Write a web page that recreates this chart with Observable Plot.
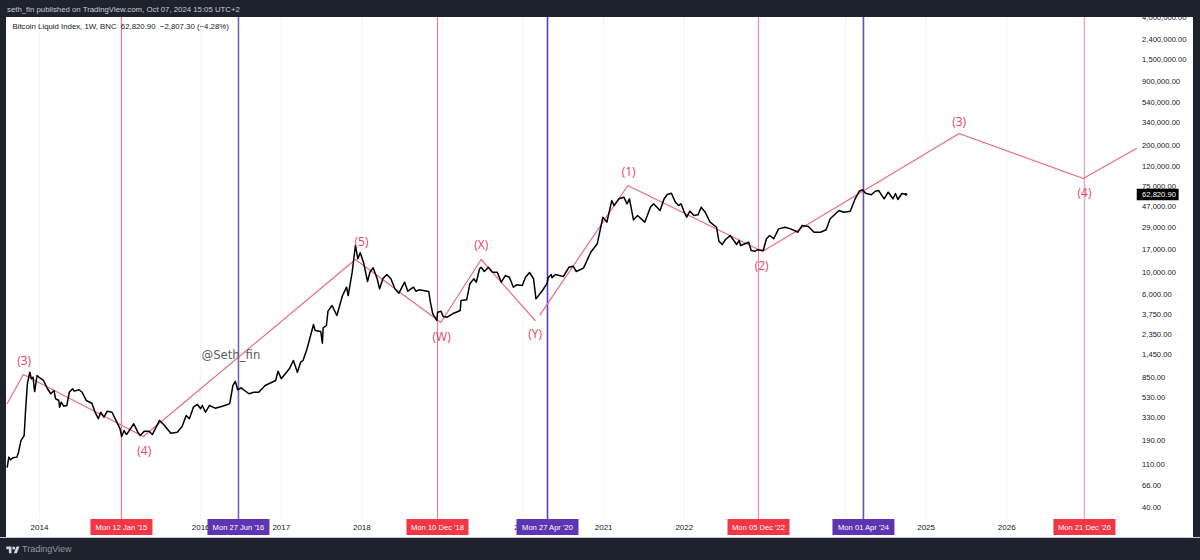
<!DOCTYPE html>
<html><head><meta charset="utf-8">
<script src="https://cdn.jsdelivr.net/npm/d3@7"></script>
<script src="https://cdn.jsdelivr.net/npm/@observablehq/plot@0.6"></script>
<style>
html,body{margin:0;padding:0;width:1200px;height:560px;overflow:hidden;background:#1e222d;font-family:"Liberation Sans",Arial,sans-serif}
#head{height:17px;line-height:20px;padding-left:7px;color:#c9ccd6;font-size:7.8px;white-space:nowrap;box-sizing:border-box}
#chart{margin-left:6px;width:1187px;height:520px}
#foot{height:23px;padding-left:6px;color:#9598a1;font-size:9px;display:flex;align-items:center;gap:2px;border-top:1px solid #c8cad0;box-sizing:border-box}
#foot svg{width:14px;height:9px;fill:#d1d4dc}
</style></head><body>
<div id="head">seth_fin published on TradingView.com, Oct 07, 2024 15:05 UTC+2</div>
<div id="chart"></div>
<div id="foot"><svg viewBox="0 0 36 24"><path d="M14 22H7V11H0V4h14v18zM28 22h-8l7.5-18h8L28 22z"/><circle cx="20" cy="8" r="4"/></svg><span>TradingView</span></div>
<script>
// Weekly index (decimal year, index value)
const priceYears = [2013.60,2013.62,2013.64,2013.67,2013.72,2013.74,2013.77,2013.81,2013.83,2013.85,2013.88,2013.90,2013.92,2013.94,2013.97,
2014.01,2014.05,2014.10,2014.14,2014.18,2014.20,2014.24,2014.25,2014.27,2014.30,2014.34,2014.37,2014.41,2014.43,2014.49,2014.53,2014.58,2014.65,2014.69,2014.73,2014.76,2014.80,2014.84,2014.90,2014.96,
2015.00,2015.02,2015.05,2015.08,2015.17,2015.22,2015.25,2015.30,2015.36,2015.40,2015.49,2015.54,2015.63,2015.71,2015.77,2015.82,2015.86,2015.91,2015.96,
2016.00,2016.02,2016.06,2016.11,2016.18,2016.27,2016.36,2016.40,2016.43,2016.46,2016.50,2016.60,2016.66,2016.72,2016.80,2016.93,2016.96,
2017.00,2017.05,2017.10,2017.15,2017.20,2017.24,2017.27,2017.32,2017.40,2017.42,2017.49,2017.51,2017.52,2017.56,2017.58,2017.63,2017.69,2017.76,2017.81,2017.83,2017.88,2017.92,2017.95,2017.98,
2018.02,2018.07,2018.10,2018.14,2018.19,2018.22,2018.26,2018.31,2018.36,2018.41,2018.46,2018.53,2018.57,2018.64,2018.67,2018.71,2018.83,2018.85,2018.88,2018.93,2018.94,2018.98,
2019.01,2019.06,2019.14,2019.22,2019.23,2019.30,2019.34,2019.39,2019.42,2019.46,2019.48,2019.52,2019.57,2019.62,2019.68,2019.73,2019.78,2019.83,2019.88,2019.92,2019.99,
2020.03,2020.08,2020.13,2020.16,2020.24,2020.30,2020.31,2020.35,2020.36,2020.40,2020.50,2020.57,2020.62,2020.66,2020.75,2020.84,2020.92,2020.99,
2021.04,2021.10,2021.13,2021.19,2021.25,2021.29,2021.32,2021.37,2021.42,2021.51,2021.58,2021.62,2021.70,2021.75,2021.79,2021.84,2021.89,2021.93,2021.96,
2022.00,2022.03,2022.07,2022.12,2022.17,2022.21,2022.26,2022.32,2022.40,2022.43,2022.47,2022.51,2022.57,2022.65,2022.68,2022.70,2022.80,2022.83,2022.88,2022.91,2022.98,
2023.02,2023.06,2023.11,2023.17,2023.25,2023.32,2023.41,2023.46,2023.54,2023.61,2023.69,2023.76,2023.81,2023.92,2023.98,
2024.06,2024.12,2024.17,2024.21,2024.25,2024.32,2024.37,2024.41,2024.48,2024.53,2024.59,2024.62,2024.65,2024.70,2024.75];
const priceValues = [103,130,122,128,130,146,192,216,421,729,959,820,853,608,887,
832,789,649,577,624,513,493,421,473,431,438,598,649,614,634,598,493,462,374,321,374,333,383,374,296,
253,211,243,221,285,234,216,239,239,221,308,280,228,234,267,346,321,421,449,
406,438,374,438,411,431,456,701,771,634,664,577,598,598,701,789,982,
820,923,1038,1262,959,1213,1262,1663,2944,2557,2496,1897,2723,2875,4027,4603,3638,5821,7079,5821,10070,18880,13800,15890,
12740,8090,10070,11170,8630,6810,8630,9540,8630,6810,6150,7960,6440,7079,6440,6650,6400,4980,3780,3235,3925,4027,
3556,3493,3837,4093,5176,5260,7670,8630,7960,10910,11320,10240,11320,10070,10070,7960,9310,8950,7079,7480,7360,
8950,10000,8630,5380,6550,7780,8830,9540,8830,9540,9100,11320,11590,10240,11070,16110,19640,36700,
32680,54300,48300,56600,58800,50300,56600,34500,38200,32680,46450,50300,43000,56600,62700,64600,52200,48300,50300,
41300,36700,42300,38200,38800,46450,41300,32680,29000,20900,19300,21600,23900,19300,21200,18900,20400,16800,16500,17100,16800,
22100,23900,22100,27900,29000,27900,25800,30200,29500,25800,25800,27300,35400,43000,41300,
42300,56600,67600,69900,64600,62200,67600,68900,56600,66100,56600,64100,55700,64100,62820.9];

// Hand-drawn wave count
const waveYears  = [2013.60,2013.80,2015.29,2017.92,2018.98,2019.48,2020.15,2020.21,2021.30,2022.97,2025.41,2026.95,2027.61];
const waveValues = [459,908,211,13580,3083,13580,3235,3698,77400,16400,263000,91200,184900];
const waveGroups = [0,0,0,0,0,0,0,1,1,1,1,1,1];

const waveLabels = ["(3)","(4)","(5)","(W)","(X)","(Y)","(1)","(2)","(3)","(4)"];
const waveLabelYears  = [2013.81,2015.30,2017.995,2018.99,2019.48,2020.15,2021.31,2022.96,2025.41,2026.965];
const waveLabelValues = [1233,149,20200,2168,18900,2328,105000,11520,340000,64100];

// Vertical event lines and their date tags
const eventYears  = [2015.017,2016.469,2018.938,2020.303,2022.921,2024.223,2026.965];
const eventLabels = ["Mon 12 Jan '15","Mon 27 Jun '16","Mon 10 Dec '18","Mon 27 Apr '20","Mon 05 Dec '22","Mon 01 Apr '24","Mon 21 Dec '26"];
const eventLineColors = ["#ea7f93","#7d5fb6","#ea7f93","#5a3ebd","#ea8a9d","#6a4db5","#eab0bc"];
const eventTagColors  = ["#f23645","#5e35b1","#f23645","#5e35b1","#f23645","#5e35b1","#f23645"];

const gridYears  = [2014,2015,2016,2017,2018,2019,2020,2021,2022,2023,2024,2025,2026];
const yearTicks  = [2014,2016,2017,2018,2020,2021,2022,2025,2026];
const priceTicks = [4000000,2400000,1500000,900000,540000,340000,200000,120000,75000,47000,29000,17000,10000,6000,3750,2350,1450,850,530,330,190,110,66,40];

const lastValue = 62820.9;
const axisYear = 2027.68;
const fmt = d3.format(",.2f");
const fontFamily = '"Liberation Sans",Arial,sans-serif';

const chart = Plot.plot({
  width: 1187, height: 520,
  marginTop: 0, marginLeft: 0, marginRight: 0, marginBottom: 18,
  style: {background: "#fff", overflow: "hidden", fontFamily, color: "#131722"},
  x: {type: "linear", domain: [2013.591, 2028.318], range: [0, 1187]},
  y: {type: "log", domain: [19.63, 4027000], range: [520, 0]},
  marks: [
    Plot.ruleX(gridYears, {x: d => d, y1: 30, y2: 4027000, stroke: "#f3f4f7", strokeWidth: 1}),
    Plot.ruleX(eventYears, {x: d => d, y1: 30, y2: 4027000, stroke: (d, i) => eventLineColors[i], strokeWidth: (d, i) => i % 2 || i === 6 ? 1.6 : 1.2}),
    Plot.line(waveValues, {x: waveYears, y: waveValues, z: waveGroups, stroke: "#ec6a80", strokeWidth: 1.2}),
    Plot.line(priceValues, {x: priceYears, y: priceValues, stroke: "#000", strokeWidth: 1.5, strokeLinejoin: "round"}),
    Plot.dot([lastValue], {x: [priceYears[priceYears.length - 1]], y: d => d, r: 1.4, fill: "#000"}),
    Plot.text(waveLabels, {x: waveLabelYears, y: waveLabelValues, text: d => d, fill: "#e4465f", fontSize: 12, fontFamily: '"Open Sans",sans-serif'}),
    Plot.text(["@Seth_fin"], {x: [2016.01], y: [1419], text: d => d, textAnchor: "start", fill: "#5d5f66", fontSize: 11.7, fontFamily: '"DejaVu Sans",sans-serif'}),
    Plot.text(["Bitcoin Liquid Index, 1W, BNC  62,820.90  \u22122,807.30 (\u22124.28%)"], {frameAnchor: "top-left", dx: 6, dy: 6, text: d => d, textAnchor: "start", fill: "#131722", fontSize: 7.8, lineAnchor: "top"}),
    Plot.axisX(yearTicks, {anchor: "bottom", tickSize: 0, tickPadding: 5, tickFormat: "d", label: null, fontSize: 8, color: "#131722"}),
    Plot.text(priceTicks, {x: () => axisYear, y: d => d, text: d => fmt(d), textAnchor: "start", fill: "#131722", fontSize: 7.6}),
    Plot.ruleX(eventYears, {x: d => d, y1: 30, y2: 20.6, stroke: (d, i) => eventTagColors[i], strokeWidth: 62}),
    Plot.text(eventLabels, {x: eventYears, y: eventYears.map(() => 24.8), text: d => d, fill: "#fff", fontSize: 7.6}),
    Plot.ruleY([lastValue], {y: d => d, x1: 2027.62, x2: 2028.14, stroke: "#000", strokeWidth: 11.5}),
    Plot.text([fmt(lastValue)], {x: [axisYear], y: [lastValue], text: d => d, textAnchor: "start", fill: "#fff", fontSize: 7.6})
  ]
});
document.getElementById("chart").appendChild(chart);
</script>
</body></html>
